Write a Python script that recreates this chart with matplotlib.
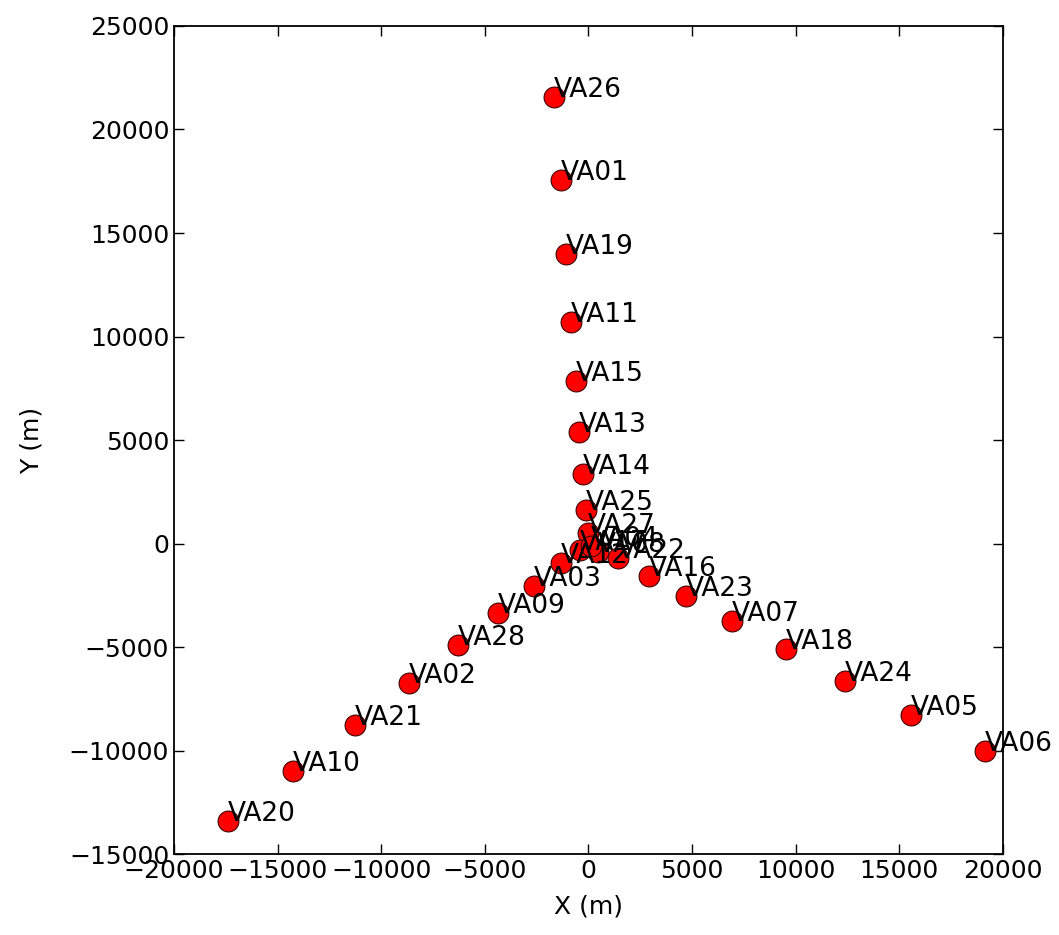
import matplotlib

matplotlib.use("Agg")
import matplotlib.pyplot as plt


# antenna names and positions (metres)
names = [
    "VA26", "VA01", "VA19", "VA11", "VA15", "VA13", "VA14", "VA25", "VA27",
    "VA17", "VA08", "VA04", "VA12", "VA22", "VA16", "VA23", "VA07", "VA18",
    "VA24", "VA05", "VA06", "VA03", "VA09", "VA28", "VA02", "VA21", "VA10",
    "VA20",
]
x_m = [
    -1665, -1327, -1086, -844, -603, -458, -265, -121, -24,
    -410, 458, 120, -1327, 1423, 2919, 4704, 6924, 9530,
    12376, 15560, 19131, -2630, -4367, -6297, -8661, -11267, -14258,
    -17394,
]
y_m = [
    21570, 17560, 13990, 10700, 7850, 5390, 3360, 1620, 510,
    -314, -411, -120, -942, -700, -1570, -2536, -3744, -5097,
    -6643, -8285, -10024, -2053, -3357, -4903, -6739, -8768, -10990,
    -13406,
]


def main() -> None:
    plt.rcParams["font.family"] = ["DejaVu Sans"]
    plt.rcParams["xtick.direction"] = "in"
    plt.rcParams["ytick.direction"] = "in"
    plt.rcParams["xtick.top"] = True
    plt.rcParams["ytick.right"] = True

    fig = plt.figure(figsize=(10.59, 9.35), dpi=100)
    ax = fig.add_axes([0.1643, 0.0866, 0.7828, 0.8856])

    ax.plot(x_m, y_m, "o", markersize=15, markerfacecolor="red",
            markeredgecolor="#400000", markeredgewidth=0.8, linestyle="none")
    for name, x, y in zip(names, x_m, y_m):
        ax.annotate(name, (x, y), fontsize=19, ha="left", va="baseline")

    ax.set_xlim(-20000, 20000)
    ax.set_ylim(-15000, 25000)
    ax.set_xticks(range(-20000, 20001, 5000))
    ax.set_yticks(range(-15000, 25001, 5000))
    ax.tick_params(labelsize=18, length=7, width=1)
    ax.set_xlabel("X (m)", fontsize=18, labelpad=8)
    ax.set_ylabel("Y (m)", fontsize=18, labelpad=18)
    for spine in ax.spines.values():
        spine.set_linewidth(1.3)

    fig.savefig("out.png", dpi=100)
    plt.close(fig)


if __name__ == "__main__":
    main()
